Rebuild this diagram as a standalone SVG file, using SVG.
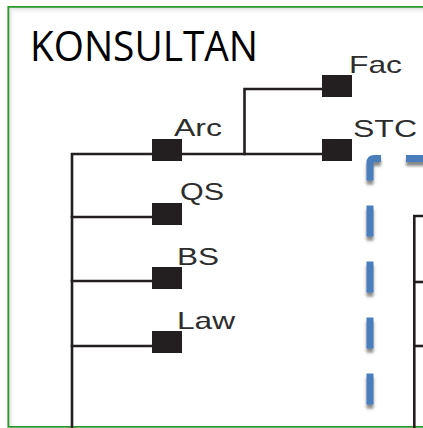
<svg xmlns="http://www.w3.org/2000/svg" width="423" height="428" viewBox="0 0 423 428">
  <defs>
    <style>
      .ln { stroke: #231f20; stroke-width: 2.6; fill: none; stroke-linecap: square; }
      .sq { fill: #231f20; }
      .lb { font-family: "Liberation Sans", Arial, sans-serif; font-size: 24px; fill: #2d2d2d; }
      .dash { stroke: #4a7ebb; stroke-width: 7; fill: none; stroke-dasharray: 31 25; }
    </style>
    <linearGradient id="topShade" x1="0" y1="0" x2="0" y2="1">
      <stop offset="0" stop-color="#d8d8d8"/>
      <stop offset="1" stop-color="#ffffff" stop-opacity="0"/>
    </linearGradient>
    <linearGradient id="leftShade" x1="0" y1="0" x2="1" y2="0">
      <stop offset="0" stop-color="#d8d8d8"/>
      <stop offset="1" stop-color="#ffffff" stop-opacity="0"/>
    </linearGradient>
    <filter id="shadow" x="-50%" y="-10%" width="200%" height="130%">
      <feDropShadow dx="0" dy="4" stdDeviation="1.6" flood-color="#555" flood-opacity="0.7"/>
    </filter>
  </defs>

  <rect x="0" y="0" width="423" height="428" fill="#ffffff"/>
  <g id="frame">
    <rect x="9" y="7" width="414" height="8" fill="url(#topShade)"/>
    <rect x="9" y="7" width="6" height="420" fill="url(#leftShade)"/>
    <path d="M 430 6.8 H 8.3 V 426.8 H 430" fill="none" stroke="#2a9a2a" stroke-width="1.8"/>
  </g>

  <text id="title" x="30" y="61" font-family="'Open Sans', 'Noto Sans', sans-serif" font-size="42" textLength="228" lengthAdjust="spacingAndGlyphs" fill="#000000">KONSULTAN</text>

  <g id="connectors">
    <path class="ln" d="M 72 428 V 154 H 322"/>
    <path class="ln" d="M 244.5 154 V 89 H 322"/>
    <path class="ln" d="M 72 217 H 152"/>
    <path class="ln" d="M 72 281 H 152"/>
    <path class="ln" d="M 72 346 H 152"/>
    <path class="ln" d="M 423 216 H 414.3 V 430"/>
    <path class="ln" d="M 414.3 282 H 423"/>
    <path class="ln" d="M 414.3 346 H 423"/>
  </g>

  <g id="boundary" filter="url(#shadow)">
    <path class="dash" d="M 437 158.5 H 374.5 Q 370 158.5 370 163 V 440"/>
  </g>

  <g id="node-fac">
    <rect class="sq" x="322" y="75" width="30" height="22"/>
    <text class="lb" x="349" y="73" textLength="53" lengthAdjust="spacingAndGlyphs">Fac</text>
  </g>
  <g id="node-arc">
    <rect class="sq" x="152" y="139" width="30" height="22"/>
    <text class="lb" x="174" y="136" textLength="48" lengthAdjust="spacingAndGlyphs">Arc</text>
  </g>
  <g id="node-stc">
    <rect class="sq" x="322" y="139" width="30" height="22"/>
    <text class="lb" x="353" y="137" textLength="64" lengthAdjust="spacingAndGlyphs">STC</text>
  </g>
  <g id="node-qs">
    <rect class="sq" x="152" y="203" width="30" height="22"/>
    <text class="lb" x="180" y="200" textLength="44" lengthAdjust="spacingAndGlyphs">QS</text>
  </g>
  <g id="node-bs">
    <rect class="sq" x="152" y="267" width="30" height="22"/>
    <text class="lb" x="177" y="265" textLength="42" lengthAdjust="spacingAndGlyphs">BS</text>
  </g>
  <g id="node-law">
    <rect class="sq" x="152" y="331" width="30" height="22"/>
    <text class="lb" x="177" y="329" textLength="58" lengthAdjust="spacingAndGlyphs">Law</text>
  </g>
</svg>
